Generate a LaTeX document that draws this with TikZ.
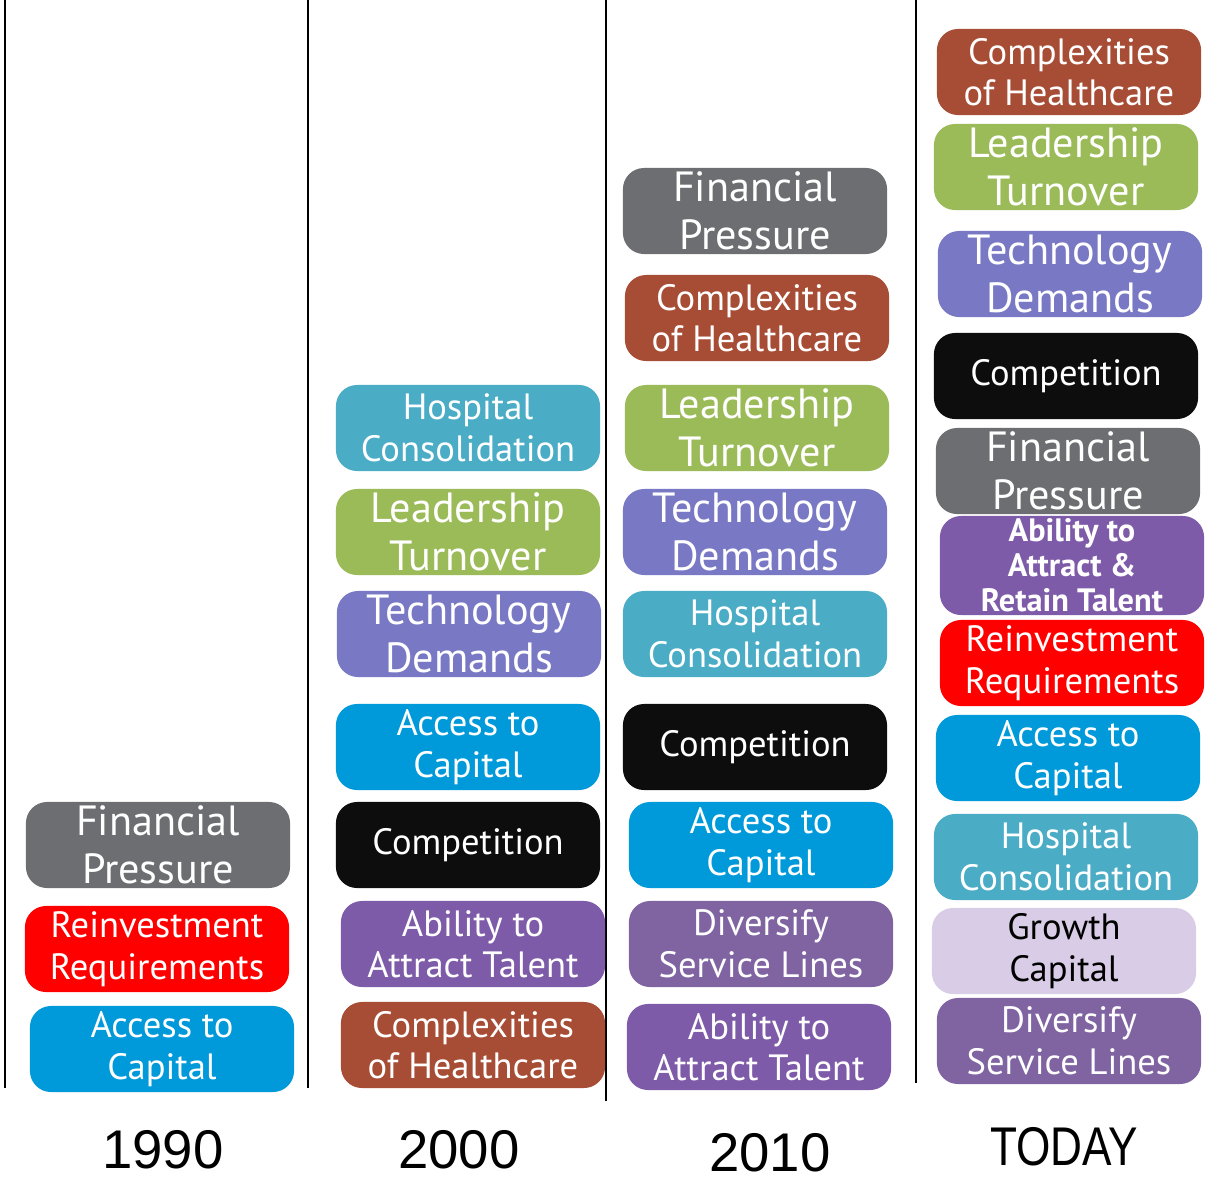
\documentclass[tikz,border=0pt]{standalone}
\usepackage{fontspec}
\setmainfont{PT Sans}
\newfontfamily\yearfont{Liberation Sans}
\definecolor{fingray}{HTML}{6D6E71}
\definecolor{reinvred}{HTML}{FF0000}
\definecolor{accblue}{HTML}{0099D9}
\definecolor{hospteal}{HTML}{4BACC6}
\definecolor{leadgreen}{HTML}{9BBB59}
\definecolor{techblue}{HTML}{7878C4}
\definecolor{compblack}{HTML}{0D0D0D}
\definecolor{abilpurple}{HTML}{7E5BA8}
\definecolor{divpurple}{HTML}{8064A2}
\definecolor{cplxrust}{HTML}{A84D35}
\definecolor{growlilac}{HTML}{D9CCE6}
\tikzset{
  tag/.style={rounded corners=6pt, minimum width=2.64cm, minimum height=0.86cm,
    inner sep=0pt, align=center, text=white, font=\fontsize{10.4}{11.8}\selectfont},
  big/.style={font=\fontsize{12}{13.7}\selectfont},
  small/.style={font=\bfseries\fontsize{9.2}{10}\selectfont},
  year/.style={font=\yearfont\fontsize{15.5}{16}\selectfont},
}

\begin{document}
\begin{tikzpicture}[x=0.01cm,y=-0.01cm]
  \useasboundingbox (0,0) rectangle (1230,1181);
  % column rules
  \draw[line width=0.6pt] (5,0)--(5,1088) (308,0)--(308,1088)
    (606,0)--(606,1101) (916,0)--(916,1083);

  % 1990
  \node[tag,big,fill=fingray] (fin90) at (158,845) {Financial\\Pressure};
  \node[tag,fill=reinvred] (reinv90) at (157,949) {Reinvestment\\Requirements};
  \node[tag,fill=accblue] (acc90) at (162,1049) {Access to\\Capital};

  % 2000
  \node[tag,fill=hospteal] (hosp00) at (468,428) {Hospital\\Consolidation};
  \node[tag,big,fill=leadgreen] (lead00) at (468,532) {Leadership\\Turnover};
  \node[tag,big,fill=techblue] (tech00) at (469,634) {Technology\\Demands};
  \node[tag,fill=accblue] (acc00) at (468,747) {Access to\\Capital};
  \node[tag,fill=compblack] (comp00) at (468,845) {Competition};
  \node[tag,fill=abilpurple] (abil00) at (473,944) {Ability to\\Attract Talent};
  \node[tag,fill=cplxrust] (cplx00) at (473,1045) {Complexities\\of Healthcare};

  % 2010
  \node[tag,big,fill=fingray] (fin10) at (755,211) {Financial\\Pressure};
  \node[tag,fill=cplxrust] (cplx10) at (757,318) {Complexities\\of Healthcare};
  \node[tag,big,fill=leadgreen] (lead10) at (757,428) {Leadership\\Turnover};
  \node[tag,big,fill=techblue] (tech10) at (755,532) {Technology\\Demands};
  \node[tag,fill=hospteal] (hosp10) at (755,634) {Hospital\\Consolidation};
  \node[tag,fill=compblack] (comp10) at (755,747) {Competition};
  \node[tag,fill=accblue] (acc10) at (761,845) {Access to\\Capital};
  \node[tag,fill=divpurple] (div10) at (761,944) {Diversify\\Service Lines};
  \node[tag,fill=abilpurple] (abil10) at (759,1047) {Ability to\\Attract Talent};

  % today
  \node[tag,fill=cplxrust] (cplxT) at (1069,72) {Complexities\\of Healthcare};
  \node[tag,big,fill=leadgreen] (leadT) at (1066,167) {Leadership\\Turnover};
  \node[tag,big,fill=techblue] (techT) at (1070,274) {Technology\\Demands};
  \node[tag,fill=compblack] (compT) at (1066,376) {Competition};
  \node[tag,big,fill=fingray] (finT) at (1068,471) {Financial\\Pressure};
  \node[tag,small,fill=abilpurple,minimum height=0.99cm] (abilT) at (1072,565.5)
    {Ability to\\Attract \&\\Retain Talent};
  \node[tag,fill=reinvred] (reinvT) at (1072,663) {Reinvestment\\Requirements};
  \node[tag,fill=accblue] (accT) at (1068,758) {Access to\\Capital};
  \node[tag,fill=hospteal] (hospT) at (1066,857) {Hospital\\Consolidation};
  \node[tag,fill=growlilac,text=black] (growT) at (1064,951) {Growth\\Capital};
  \node[tag,fill=divpurple] (divT) at (1069,1041) {Diversify\\Service Lines};

  % years
  \node[year] (y90) at (163,1150) {1990};
  \node[year] (y00) at (459,1150) {2000};
  \node[year] (y10) at (770,1153) {2010};
  \node[year] (yT) at (1064,1147) {\scalebox{0.81}[1]{TODAY}};
\end{tikzpicture}
\end{document}
